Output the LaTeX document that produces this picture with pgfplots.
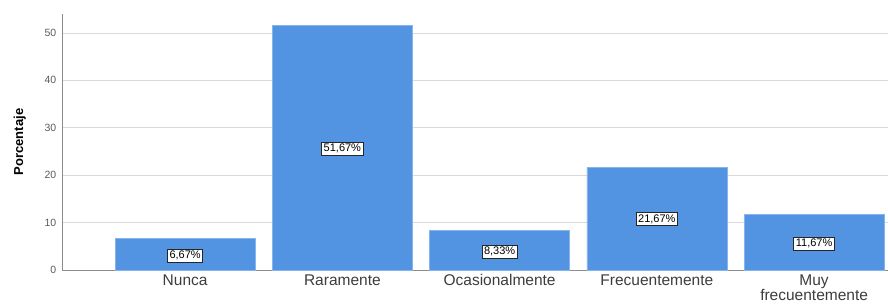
\documentclass[border=0pt]{standalone}
\usepackage{pgfplots}
\pgfplotsset{compat=1.18}
\usepackage{fontspec}
\setmainfont{Liberation Sans}
\definecolor{barblue}{RGB}{83,148,226}
\definecolor{gridgray}{RGB}{217,217,217}
\definecolor{axgray}{RGB}{140,140,140}
\definecolor{ticktext}{RGB}{60,60,60}
\definecolor{yticktext}{RGB}{90,90,90}
\begin{document}
\begin{tikzpicture}[x=1pt,y=1pt]
\useasboundingbox (0,0) rectangle (888,304);
\begin{axis}[
  at={(62pt,34pt)}, anchor=south west,
  scale only axis, width=826pt, height=256pt,
  xmin=-0.783, xmax=4.47, ymin=0, ymax=54,
  axis x line=bottom, axis y line=left,
  axis line style={draw=axgray, line width=0.8pt, -},
  xtick={0,1,2,3,4},
  xticklabels={Nunca,Raramente,Ocasionalmente,Frecuentemente,{Muy\\frecuentemente}},
  xticklabel style={align=center, font=\fontsize{15.5}{12}\selectfont, text=ticktext, yshift=1pt},
  x tick style={draw=none},
  ytick={0,10,20,30,40,50},
  yticklabel style={font=\fontsize{10.5}{10}\selectfont, text=yticktext},
  /pgf/number format/assume math mode=true,
  y tick style={draw=none},
  ymajorgrids, grid style={draw=gridgray, line width=0.8pt},
  ylabel={\textbf{Porcentaje}},
  ylabel style={font=\fontsize{13}{13}\selectfont},
  ylabel shift=12pt,
  clip=false,
]
\addplot[ybar, bar width=140pt, fill=barblue, draw=barblue!70!white, line width=0.5pt] coordinates {
  (0,6.67) (1,51.67) (2,8.33) (3,21.67) (4,11.67)
};
\addplot[draw=none, mark=none, nodes near coords, point meta=explicit symbolic,
  every node near coord/.style={anchor=center, fill=white, draw=black!85, line width=0.8pt,
    inner sep=2pt, font=\fontsize{11}{11}\selectfont}] coordinates {
  (0,3.0)[6,67\%] (1,25.6)[51,67\%] (2,3.9)[8,33\%] (3,10.7)[21,67\%] (4,5.6)[11,67\%]
};
\end{axis}
\end{tikzpicture}
\end{document}
